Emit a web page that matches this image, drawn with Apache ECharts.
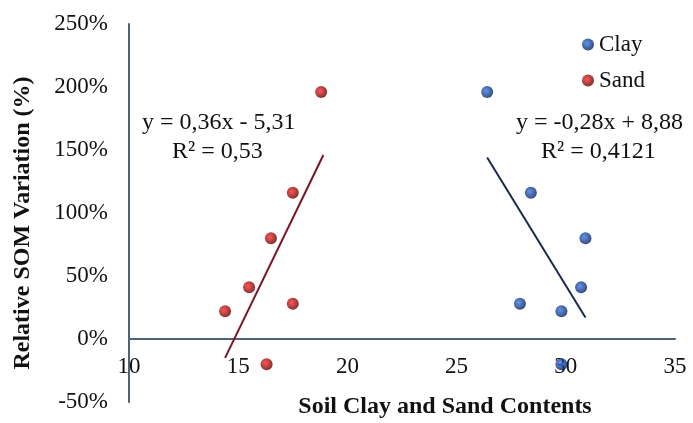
<!DOCTYPE html>
<html>
<head>
<meta charset="utf-8">
<script src="https://cdn.jsdelivr.net/npm/echarts@6/dist/echarts.min.js"></script>
<style>
  html, body { margin: 0; padding: 0; background: #fff; }
  #chart { width: 693px; height: 423px; }
</style>
</head>
<body>
<div id="chart"></div>
<script>
// values (x = content, y = relative variation in %)
var clayX = [26.4, 28.4, 30.9, 30.7, 27.9, 29.8, 29.8];
var clayY = [196, 116, 80, 41, 28, 22, -20];
var sandX = [14.4, 15.5, 16.5, 17.5, 18.8, 17.5, 16.3];
var sandY = [22, 41, 80, 116, 196, 28, -20];

// trend line ends
var clayTrendX = [26.4, 30.9];
var clayTrendY = [144, 17];
var sandTrendX = [14.4, 18.9];
var sandTrendY = [-15, 146];

var clayEq = ['y = -0,28x + 8,88', 'R\u00b2 = 0,4121'];
var sandEq = ['y = 0,36x - 5,31', 'R\u00b2 = 0,53'];

function pairs(xs, ys) {
  return xs.map(function (x, i) { return [x, ys[i]]; });
}

var serif = 'Liberation Serif';
var chart = echarts.init(document.getElementById('chart'));

function ball(c1, c2) {
  return new echarts.graphic.RadialGradient(0.4, 0.4, 0.6, [
    { offset: 0, color: c1 },
    { offset: 1, color: c2 }
  ]);
}

var option = {
  backgroundColor: '#fff',
  animation: false,
  grid: { left: 129, right: 18, top: 24, bottom: 21, outerBoundsMode: 'none', containLabel: false },
  legend: {
    orient: 'vertical',
    left: 577,
    top: 28,
    itemWidth: 12,
    itemHeight: 12,
    itemGap: 13,
    icon: 'circle',
    data: ['Clay', 'Sand'],
    textStyle: { fontFamily: serif, fontSize: 23, color: '#111' }
  },
  xAxis: {
    type: 'value',
    min: 10,
    max: 35,
    interval: 5,
    // axis drawn along y = 0% (63px above the grid bottom)
    offset: -63,
    name: 'Soil Clay and Sand Contents',
    nameLocation: 'middle',
    nameGap: 56,
    nameTextStyle: { fontFamily: serif, fontSize: 24, fontWeight: 'bold', color: '#111', padding: [0, 0, 0, 86] },
    axisLine: { onZero: false, lineStyle: { color: '#4d6272', width: 2 } },
    axisTick: { show: false },
    splitLine: { show: false },
    axisLabel: { fontFamily: serif, fontSize: 23, color: '#111', margin: 16 }
  },
  yAxis: {
    type: 'value',
    min: -50,
    max: 250,
    interval: 50,
    name: 'Relative SOM Variation (%)',
    nameLocation: 'middle',
    nameGap: 94,
    nameTextStyle: { fontFamily: serif, fontSize: 24, fontWeight: 'bold', color: '#111', padding: [0, 20, 0, 0] },
    axisLine: { show: true, onZero: false, lineStyle: { color: '#4d6272', width: 2 } },
    axisTick: { show: false },
    splitLine: { show: false },
    axisLabel: { fontFamily: serif, fontSize: 23, color: '#111', margin: 21, formatter: '{value}%' }
  },
  series: [
    {
      name: 'Clay trend',
      type: 'line',
      data: pairs(clayTrendX, clayTrendY),
      showSymbol: false,
      lineStyle: { color: '#1b2a4a', width: 2 },
      z: 3
    },
    {
      name: 'Sand trend',
      type: 'line',
      data: pairs(sandTrendX, sandTrendY),
      showSymbol: false,
      lineStyle: { color: '#7a1428', width: 2 },
      z: 3
    },
    {
      name: 'Clay',
      type: 'scatter',
      data: pairs(clayX, clayY),
      symbolSize: 12,
      itemStyle: { color: ball('#3a7ae8', '#06215e') },
      z: 4
    },
    {
      name: 'Sand',
      type: 'scatter',
      data: pairs(sandX, sandY),
      symbolSize: 12,
      itemStyle: { color: ball('#ff2a2a', '#6a0000') },
      z: 4
    }
  ],
  graphic: [
    { type: 'text', left: 142, top: 111, style: { text: sandEq[0], font: '24px ' + serif, fill: '#111' } },
    { type: 'text', left: 172, top: 140, style: { text: sandEq[1], font: '24px ' + serif, fill: '#111' } },
    { type: 'text', left: 516, top: 111, style: { text: clayEq[0], font: '24px ' + serif, fill: '#111' } },
    { type: 'text', left: 541, top: 140, style: { text: clayEq[1], font: '24px ' + serif, fill: '#111' } }
  ]
};

chart.setOption(option);
window.addEventListener('resize', function () { chart.resize(); });
</script>
</body>
</html>
